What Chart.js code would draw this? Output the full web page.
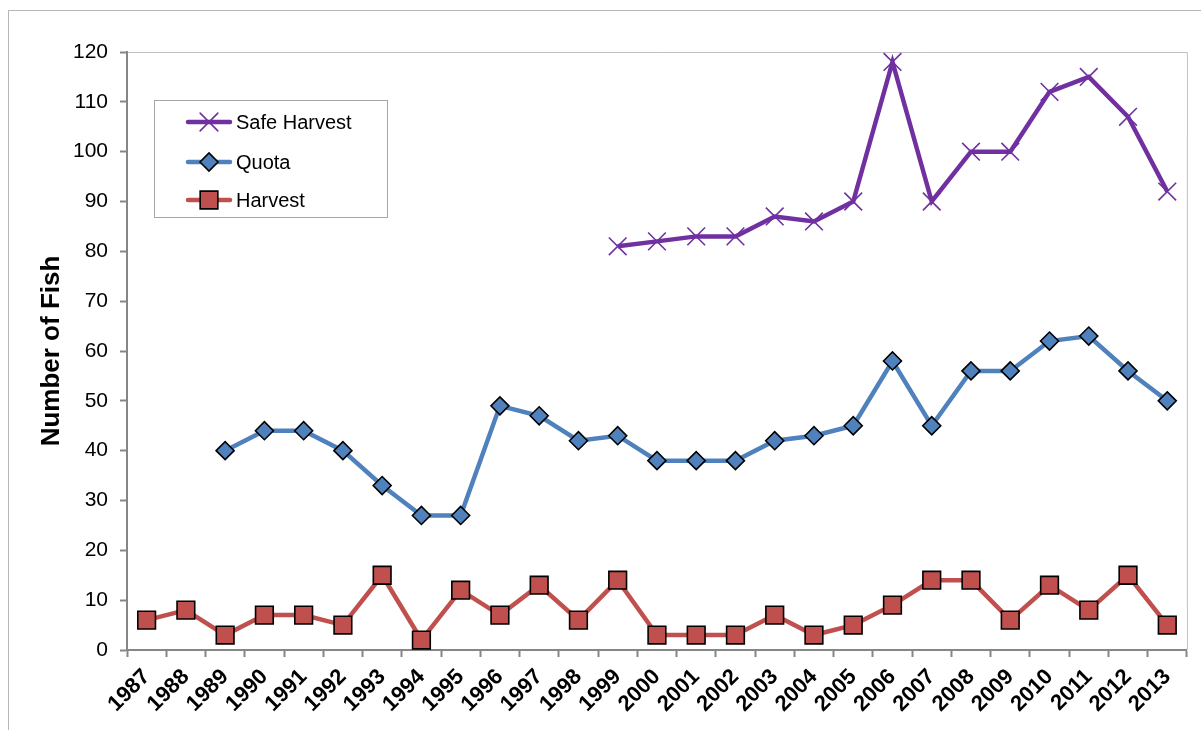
<!DOCTYPE html>
<html>
<head>
<meta charset="utf-8">
<script src="https://cdn.jsdelivr.net/npm/chart.js@4.4.1/dist/chart.umd.min.js"></script>
<style>
  html, body { margin: 0; padding: 0; background: #fff; }
  #wrap { position: relative; width: 1201px; height: 730px; }
</style>
</head>
<body>
<div id="wrap"><canvas id="chart"></canvas></div>
<script>
  /* ─── Data ─── */
  const years = ["1987", "1988", "1989", "1990", "1991", "1992", "1993", "1994", "1995", "1996",
    "1997", "1998", "1999", "2000", "2001", "2002", "2003", "2004", "2005", "2006",
    "2007", "2008", "2009", "2010", "2011", "2012", "2013"];

  const safeHarvest = [null, null, null, null, null, null, null, null, null, null,
    null, null, 81, 82, 83, 83, 87, 86, 90, 118,
    90, 100, 100, 112, 115, 107, 92];

  const quota = [null, null, 40, 44, 44, 40, 33, 27, 27, 49,
    47, 42, 43, 38, 38, 38, 42, 43, 45, 58,
    45, 56, 56, 62, 63, 56, 50];

  const harvest = [6, 8, 3, 7, 7, 5, 15, 2, 12, 7,
    13, 6, 14, 3, 3, 3, 7, 3, 5, 9,
    14, 14, 6, 13, 8, 15, 5];

  const yTicks = [0, 10, 20, 30, 40, 50, 60, 70, 80, 90, 100, 110, 120];

  /* ─── Style ─── */
  const FONT = "'Liberation Sans', Arial, sans-serif";
  const AXIS_GRAY = "#868686";
  const FRAME_GRAY = "#b7b7b7";

  const series = [
    { label: "Safe Harvest", data: safeHarvest, color: "#7030a0", fill: "#7030a0", style: "crossRot", radius: 12.5, bw: 1.6, bc: "#7030a0" },
    { label: "Quota", data: quota, color: "#4f81bd", fill: "#4f81bd", style: "rectRot", radius: 9, bw: 1.6, bc: "#000" },
    { label: "Harvest", data: harvest, color: "#c0504d", fill: "#c0504d", style: "rect", radius: 12.5, bw: 1.6, bc: "#000" },
  ];

  /* ─── Frame + legend plugin ─── */
  const framePlugin = {
    id: "frame",
    beforeDraw: (chart) => {
      const ctx = chart.ctx;
      ctx.save();
      ctx.strokeStyle = FRAME_GRAY;
      ctx.lineWidth = 1;
      ctx.strokeRect(8.5, 10.5, 1400, 1000);
      const a = chart.chartArea;
      ctx.strokeStyle = "#c0c0c0";
      ctx.beginPath();
      ctx.moveTo(a.left, a.top + 0.5);
      ctx.lineTo(a.right + 0.5, a.top + 0.5);
      ctx.lineTo(a.right + 0.5, a.bottom);
      ctx.stroke();
      ctx.restore();
    },
    afterDraw: (chart) => {
      const ctx = chart.ctx;
      const bx = 154, by = 100, bw = 233, bh = 117;
      ctx.save();
      ctx.fillStyle = "#fff";
      ctx.fillRect(bx, by, bw, bh);
      ctx.strokeStyle = "#a6a6a6";
      ctx.lineWidth = 1;
      ctx.strokeRect(bx + 0.5, by + 0.5, bw, bh);
      const rows = [122, 162, 200];
      series.forEach((s, i) => {
        const y = rows[i];
        ctx.strokeStyle = s.color;
        ctx.lineWidth = 4.5;
        ctx.lineCap = "round";
        ctx.beginPath();
        ctx.moveTo(188, y);
        ctx.lineTo(230, y);
        ctx.stroke();
        ctx.fillStyle = s.fill;
        ctx.strokeStyle = s.bc;
        ctx.lineWidth = s.bw;
        Chart.helpers.drawPoint(ctx, { pointStyle: s.style, radius: s.radius, rotation: 0, borderWidth: s.bw }, 209, y);
        ctx.fillStyle = "#000";
        ctx.font = "20px " + FONT;
        ctx.textBaseline = "middle";
        ctx.textAlign = "left";
        ctx.fillText(s.label, 236, y + 1);
      });
      ctx.restore();
    },
  };

  /* ─── Chart ─── */
  const ctx = document.getElementById("chart").getContext("2d");
  new Chart(ctx, {
    type: "line",
    data: {
      labels: years,
      datasets: series.map((s) => ({
        label: s.label,
        data: s.data,
        borderColor: s.color,
        backgroundColor: s.fill,
        borderWidth: 4.5,
        pointStyle: s.style,
        pointRadius: s.radius,
        pointHoverRadius: s.radius,
        pointBackgroundColor: s.fill,
        pointBorderColor: s.bc,
        pointBorderWidth: s.bw,
        tension: 0,
        fill: false,
      })),
    },
    options: {
      responsive: true,
      maintainAspectRatio: false,
      animation: false,
      layout: { padding: { top: 52, right: 9, left: 0, bottom: 0 } },
      plugins: {
        legend: { display: false },
        tooltip: { enabled: false },
      },
      scales: {
        x: {
          offset: true,
          afterFit: (scale) => { scale.height = 80; },
          grid: { offset: true, drawOnChartArea: false, drawTicks: true, tickLength: 7, tickColor: AXIS_GRAY, tickWidth: 2 },
          border: { display: true, color: AXIS_GRAY, width: 2 },
          ticks: {
            autoSkip: false,
            maxRotation: 45,
            minRotation: 45,
            padding: 7,
            color: "#000",
            font: { family: FONT, size: 22, weight: "bold" },
          },
        },
        y: {
          min: 0,
          max: 120,
          afterFit: (scale) => { scale.width = 127; },
          afterBuildTicks: (scale) => { scale.ticks = yTicks.map((v) => ({ value: v })); },
          grid: { drawOnChartArea: false, drawTicks: true, tickLength: 7, tickColor: AXIS_GRAY, tickWidth: 2 },
          border: { display: true, color: AXIS_GRAY, width: 2 },
          ticks: {
            padding: 12,
            color: "#000",
            font: { family: FONT, size: 21 },
          },
          title: {
            display: true,
            text: "Number of Fish",
            color: "#000",
            padding: { top: 36, bottom: 0 },
            font: { family: FONT, size: 26, weight: "bold" },
          },
        },
      },
    },
    plugins: [framePlugin],
  });
</script>
</body>
</html>
